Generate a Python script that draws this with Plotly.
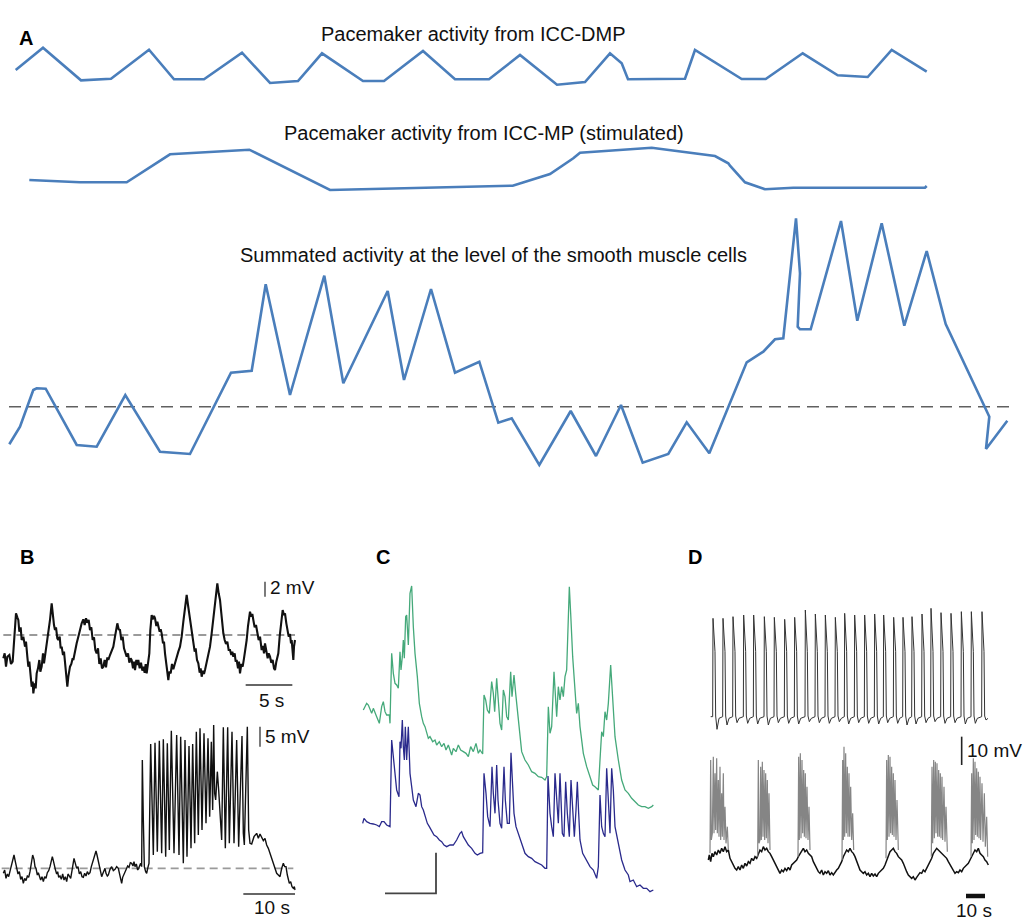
import plotly.graph_objects as go

# ===================== figure frame =====================
W, H = 1024, 920
FONT = "Liberation Sans, Arial, sans-serif"

# ===================== panel A (x: time, y: level, read in px units of panel) =====================
a_dmp_x = [15.7, 43, 81, 111, 149, 174, 204, 242, 270, 298, 322, 363, 384, 423, 455, 489, 520, 557, 585, 610,
           621.7, 628, 685, 695, 741.7, 765.7, 802.7, 837.7, 867.7, 891.7, 926.7]
a_dmp_y = [70, 47.7, 80.3, 78.7, 49.7, 79.3, 79.3, 52.7, 83, 81, 53.3, 81, 81, 51, 79.3, 79.3, 55, 84.7, 82, 53.3,
           63.3, 79.3, 78.7, 50, 79, 79, 53.3, 75.3, 77, 50, 71.7]

a_mp_x = [29.3, 80, 126.7, 170, 249.3, 330, 512.7, 550, 573.3, 580, 651.7, 715, 728.3, 730, 745, 765, 793.3, 925, 926.7]
a_mp_y = [180, 182.3, 182.3, 154.3, 149.7, 190, 185.7, 174, 158.3, 152.7, 147.7, 156, 163.3, 165.7, 182.3, 189.3,
          187.7, 187.7, 186]

a_sum_x = [9.3, 20, 33.3, 36.7, 45.7, 76.7, 96.7, 125.3, 160, 190, 231, 251.7, 265.7, 290, 324.3, 343.3, 387.7, 404,
           431, 455, 479.3, 498.3, 511.7, 539.3, 570.7, 596, 621, 642.7, 668.3, 686.7, 709.3, 746.7, 763.3, 775,
           783.3, 796, 800, 797.7, 800, 810.7, 841, 857.3, 881.7, 904.3, 926.7, 945.7, 987.7, 989.3, 986, 1007.3]
a_sum_y = [444.3, 426.7, 390, 388.3, 388.7, 445, 446.7, 395, 451.7, 454, 372.7, 370.7, 284.3, 395, 275.7, 383.3, 291,
           380, 289, 372.7, 361.7, 422.7, 418.3, 465, 411, 456, 405, 462.7, 454, 422.3, 453.3, 362.3, 351.7, 339.3,
           338.3, 218.3, 273.3, 326.7, 329.3, 329.3, 221, 320.7, 223.3, 325.7, 251, 324, 413.3, 416.7, 449, 420.7]
a_rest_x = [9, 1010]
a_rest_y = [406.7, 406.7]

a_titles = ["Pacemaker activity from ICC-DMP",
            "Pacemaker activity from ICC-MP (stimulated)",
            "Summated activity at the level of the smooth muscle cells"]

# ===================== panel B =====================
b_top = [(10, 355), (14, 340), (18, 380), (22, 350), (28, 345), (33, 372), (38, 365), (42, 300), (46, 235), (48, 220),
         (52, 232), (55, 240), (58, 275), (62, 262), (65, 300), (70, 290), (75, 320), (78, 305), (82, 350), (85, 380),
         (88, 365), (92, 415), (95, 440), (98, 425), (100, 460), (104, 430), (107, 445), (110, 400), (114, 385),
         (118, 360), (121, 395), (125, 380), (129, 340), (132, 370), (135, 350), (140, 320), (145, 280), (150, 240),
         (155, 190), (158, 230), (162, 255), (165, 270), (168, 262), (172, 295), (175, 300), (179, 290), (182, 325),
         (185, 320), (189, 345), (192, 335), (195, 370), (198, 395), (202, 440), (205, 410), (208, 395), (210, 380),
         (214, 372), (218, 355), (220, 360), (225, 330), (230, 310), (235, 290), (240, 268), (243, 258), (245, 250),
         (250, 238), (254, 255), (258, 235), (262, 248), (266, 240), (270, 270), (274, 262), (278, 300), (282, 292),
         (286, 330), (290, 340), (294, 325), (298, 372), (302, 355), (306, 385), (310, 380), (314, 360), (318, 382),
         (322, 352), (325, 360), (330, 345), (335, 332), (340, 320), (345, 290), (349, 262), (352, 250), (356, 268),
         (360, 270), (364, 300), (368, 290), (372, 325), (376, 338), (380, 350), (384, 340), (388, 368), (392, 355),
         (395, 360), (399, 385), (402, 365), (405, 390), (409, 360), (412, 375), (415, 360), (419, 385), (423, 368),
         (427, 392), (430, 380), (434, 398), (437, 372), (440, 400), (444, 375), (448, 340), (451, 270), (455, 225),
         (458, 238), (462, 228), (465, 235), (469, 258), (472, 245), (475, 260), (479, 275), (482, 268), (485, 280),
         (489, 310), (492, 305), (495, 340), (499, 380), (502, 405), (505, 420), (508, 395), (512, 400), (516, 372),
         (520, 388), (525, 370), (530, 350), (535, 335), (540, 320), (545, 290), (550, 245), (555, 200), (560, 165),
         (564, 195), (567, 215), (570, 230), (574, 255), (577, 280), (580, 300), (584, 335), (587, 325), (591, 360),
         (595, 370), (599, 398), (602, 385), (605, 410), (609, 392), (612, 402), (615, 390), (619, 370), (622, 350),
         (626, 335), (630, 320), (635, 280), (640, 240), (645, 200), (649, 155), (652, 130), (656, 160), (660, 180),
         (664, 220), (667, 255), (670, 280), (674, 300), (678, 312), (682, 305), (686, 330), (690, 330), (694, 345),
         (697, 335), (700, 350), (704, 340), (707, 365), (710, 360), (714, 385), (717, 365), (720, 400), (724, 372),
         (728, 380), (732, 355), (736, 330), (740, 300), (744, 258), (748, 222), (750, 215), (754, 230), (757, 222),
         (760, 240), (764, 262), (768, 255), (772, 280), (776, 300), (780, 290), (785, 330), (789, 318), (792, 340),
         (795, 310), (799, 335), (803, 355), (806, 340), (810, 350), (814, 368), (818, 360), (822, 385), (825, 390),
         (829, 365), (832, 350), (835, 340), (839, 290), (843, 245), (848, 210), (852, 225), (855, 220), (859, 250),
         (862, 270), (866, 290), (870, 282), (873, 310), (875, 300), (878, 330), (880, 360), (882, 320), (885, 300)]
b_top_rest = 285

b_bot = [(10, 460), (14, 450), (18, 475), (22, 462), (26, 470), (30, 455), (34, 440), (38, 418), (42, 405), (46, 425),
         (50, 440), (54, 462), (58, 455), (62, 478), (66, 470), (70, 490), (74, 475), (78, 482), (82, 468), (86, 472),
         (90, 455), (94, 430), (98, 405), (102, 418), (105, 440), (108, 445), (112, 465), (115, 458), (118, 470),
         (122, 480), (126, 470), (130, 485), (134, 470), (138, 475), (142, 458), (146, 452), (150, 440), (154, 425),
         (157, 410), (160, 422), (163, 440), (166, 448), (170, 462), (173, 455), (176, 472), (180, 468), (184, 478),
         (188, 462), (192, 480), (196, 470), (200, 485), (204, 462), (208, 468), (212, 475), (216, 452), (220, 425),
         (222, 415), (226, 430), (230, 445), (234, 440), (238, 462), (242, 455), (246, 470), (250, 472), (254, 460),
         (258, 468), (262, 455), (266, 462), (270, 458), (274, 440), (278, 425), (282, 408), (285, 398), (288, 393),
         (291, 405), (294, 420), (298, 440), (302, 455), (305, 470), (308, 462), (312, 450), (315, 445), (318, 460),
         (322, 468), (325, 465), (330, 448), (335, 440), (340, 452), (345, 448), (350, 440), (355, 445), (358, 462),
         (362, 478), (365, 490), (368, 472), (372, 462), (375, 458), (379, 448), (383, 438), (387, 442), (391, 428),
         (395, 430), (399, 438), (402, 425), (405, 440), (409, 432), (413, 450), (416, 445), (419, 435), (422, 430),
         (425, 440), (427, 120), (430, 300), (433, 440), (437, 455), (440, 460), (443, 445), (447, 430),
         (452, 72), (458, 330), (460, 405), (465, 68), (470, 330), (472, 395), (478, 62), (483, 320), (485, 400),
         (490, 58), (495, 330), (497, 410), (502, 70), (506, 320), (508, 390), (514, 32), (519, 320), (522, 400),
         (530, 45), (535, 330), (537, 405), (542, 50), (547, 340), (550, 430), (555, 60), (559, 330), (561, 410),
         (567, 78), (571, 310), (573, 385), (578, 72), (582, 300), (584, 370), (589, 35), (593, 290), (595, 345),
         (600, 25), (604, 270), (606, 330), (612, 40), (616, 260), (618, 310), (624, 55), (627, 240), (629, 290),
         (634, 65), (637, 230), (638, 270), (641, 15), (644, 220), (647, 240), (652, 155), (656, 210), (659, 250),
         (662, 300), (665, 360), (670, 22), (674, 340), (676, 385), (683, 22), (686, 330), (688, 370), (696, 35),
         (700, 330), (702, 370), (710, 60), (714, 340), (716, 380), (726, 48), (730, 340), (733, 375), (742, 20),
         (746, 330), (750, 370), (755, 372), (762, 350), (770, 340), (775, 355), (780, 342), (785, 350), (790, 362),
         (795, 355), (800, 375), (805, 385), (810, 400), (815, 415), (820, 430), (825, 450), (830, 460), (835, 465),
         (840, 470), (845, 445), (850, 430), (854, 440), (858, 440), (862, 465), (866, 478), (868, 490), (872, 485),
         (876, 500), (880, 505), (883, 500), (885, 510)]
b_bot_rest = 445

# ===================== panel C =====================
c_green = [(70, 450), (75, 440), (80, 430), (85, 435), (90, 450), (95, 460), (100, 445), (105, 455), (110, 470),
           (118, 490), (125, 440), (130, 425), (135, 455), (140, 465), (148, 465), (150, 490), (155, 280), (160, 340),
           (165, 370), (170, 375), (175, 385), (180, 275), (183, 330), (187, 290), (190, 240), (193, 295), (197, 170),
           (200, 165), (205, 255), (210, 100), (215, 78), (220, 200), (225, 280), (232, 350), (238, 430), (245, 470),
           (250, 490), (255, 500), (260, 520), (265, 535), (270, 530), (278, 545), (285, 540), (290, 555), (298, 545),
           (305, 560), (312, 550), (318, 570), (325, 555), (335, 585), (340, 565), (348, 575), (355, 555), (362, 570),
           (370, 575), (378, 580), (385, 590), (392, 560), (400, 575), (408, 550), (415, 580), (420, 570), (428, 582),
           (432, 405), (437, 420), (442, 450), (448, 460), (455, 365), (460, 400), (464, 455), (470, 355), (475, 430),
           (480, 490), (485, 510), (490, 390), (495, 410), (500, 470), (505, 480), (512, 335), (516, 410), (522, 345),
           (527, 400), (535, 480), (545, 575), (555, 600), (565, 615), (575, 635), (585, 640), (595, 650), (605, 652),
           (615, 660), (620, 650), (625, 440), (630, 520), (635, 500), (642, 335), (650, 470), (655, 380), (660, 420),
           (665, 380), (670, 410), (675, 350), (680, 330), (685, 130), (688, 80), (692, 160), (698, 290), (705, 390),
           (710, 460), (715, 430), (720, 500), (730, 580), (740, 620), (750, 650), (758, 675), (765, 680), (775, 690),
           (780, 600), (785, 515), (790, 530), (795, 455), (800, 480), (805, 430), (812, 315), (818, 410), (825, 530),
           (835, 600), (845, 660), (855, 690), (865, 700), (875, 715), (885, 725), (895, 735), (905, 740), (915, 740),
           (925, 745), (935, 740), (940, 735)]

c_blue = [(68, 790), (72, 775), (80, 785), (90, 790), (100, 792), (110, 795), (118, 800), (125, 785), (132, 785),
          (140, 795), (150, 800), (155, 540), (160, 590), (165, 640), (170, 690), (177, 710), (180, 545), (183, 565),
          (187, 480), (190, 560), (193, 600), (196, 500), (200, 600), (205, 500), (210, 640), (215, 680), (220, 720),
          (228, 740), (235, 700), (240, 705), (245, 740), (250, 750), (255, 765), (262, 790), (268, 800), (275, 815),
          (282, 825), (290, 830), (298, 840), (305, 845), (312, 855), (320, 860), (330, 855), (340, 855), (350, 840),
          (360, 820), (365, 815), (370, 830), (378, 845), (385, 855), (395, 865), (405, 880), (412, 885), (420, 880),
          (428, 878), (432, 640), (438, 700), (443, 770), (450, 800), (456, 620), (460, 700), (465, 760), (470, 615),
          (474, 720), (480, 790), (485, 805), (492, 620), (496, 720), (502, 790), (508, 790), (513, 578), (518, 680),
          (522, 760), (528, 800), (535, 820), (545, 855), (555, 880), (565, 890), (575, 895), (585, 905), (595, 910),
          (605, 915), (615, 925), (620, 925), (624, 648), (630, 760), (635, 800), (640, 830), (645, 640), (650, 730),
          (655, 790), (660, 640), (663, 720), (667, 820), (672, 830), (677, 665), (682, 760), (688, 830), (693, 660),
          (698, 760), (703, 830), (708, 750), (712, 665), (716, 760), (720, 840), (728, 880), (740, 900), (750, 920),
          (760, 930), (765, 945), (770, 955), (775, 920), (780, 705), (785, 800), (790, 820), (795, 830), (800, 625),
          (805, 720), (810, 820), (815, 625), (820, 690), (825, 800), (835, 855), (845, 900), (855, 930), (865, 945),
          (870, 965), (880, 960), (890, 980), (900, 975), (910, 985), (920, 985), (930, 995), (940, 990)]

# ===================== panel D =====================
# top: one slow wave per rise time, with its peak and post-spike dip level
d_top_rise = [68, 98, 128, 160, 190, 222, 252, 283, 313, 345, 375, 405, 435, 463, 493, 523, 553, 580, 610, 638,
              665, 695, 722, 752, 782, 813, 843, 875]
d_top_peak = [235, 235, 230, 225, 225, 230, 232, 238, 232, 210, 222, 225, 232, 220, 225, 225, 222, 225, 232, 232,
              230, 222, 205, 218, 220, 215, 215, 215]
d_top_dip = [568, 555, 548, 550, 552, 555, 548, 550, 552, 545, 548, 550, 545, 552, 548, 550, 552, 548, 550, 555,
             552, 548, 545, 550, 548, 552, 550, 540]

d_base = [(55, 960), (58, 945), (62, 965), (66, 940), (70, 950), (75, 935), (80, 945), (85, 930), (90, 940),
          (95, 925), (100, 935), (105, 920), (110, 935), (115, 930), (120, 955), (125, 965), (130, 975), (135, 985),
          (140, 990), (145, 980), (150, 990), (155, 975), (160, 985), (165, 970), (170, 978), (175, 965), (180, 970),
          (185, 955), (190, 962), (195, 950), (200, 955), (205, 945), (210, 930), (215, 935), (220, 920), (225, 930),
          (230, 925), (235, 935), (240, 940), (245, 950), (250, 960), (255, 970), (260, 985), (265, 990), (270, 1000),
          (275, 990), (280, 995), (285, 985), (290, 992), (295, 982), (300, 990), (305, 975), (310, 970), (315, 962),
          (320, 960), (325, 950), (330, 940), (335, 930), (340, 925), (345, 935), (350, 930), (355, 940), (360, 945),
          (365, 950), (370, 965), (375, 975), (380, 990), (385, 995), (390, 1000), (395, 990), (400, 1005),
          (405, 995), (410, 1000), (415, 992), (420, 1005), (425, 998), (430, 1005), (435, 995), (440, 990),
          (445, 985), (450, 975), (455, 965), (460, 950), (465, 940), (470, 930), (475, 935), (480, 925), (485, 935),
          (490, 940), (495, 950), (500, 965), (505, 980), (510, 990), (515, 995), (520, 1000), (525, 995),
          (530, 1005), (535, 1000), (540, 1010), (545, 1000), (550, 1008), (555, 1002), (560, 1010), (565, 1000),
          (570, 995), (575, 990), (580, 985), (585, 975), (590, 960), (595, 945), (600, 935), (605, 930), (610, 925),
          (615, 935), (620, 940), (625, 950), (630, 955), (635, 960), (640, 970), (645, 985), (650, 995), (655, 1005),
          (660, 1010), (665, 1015), (670, 1010), (675, 1020), (680, 1012), (685, 1005), (690, 998), (695, 1000),
          (700, 990), (705, 995), (710, 985), (715, 980), (720, 970), (725, 955), (730, 940), (735, 930), (740, 925),
          (745, 930), (750, 935), (755, 940), (760, 945), (765, 950), (770, 955), (775, 965), (780, 975), (785, 985),
          (790, 995), (795, 1000), (800, 995), (805, 998), (810, 990), (815, 995), (820, 985), (825, 980), (830, 975),
          (835, 970), (840, 960), (845, 950), (850, 940), (855, 930), (860, 935), (865, 925), (870, 940), (875, 945),
          (880, 950), (885, 960), (890, 965), (895, 975)]

d_bursts = [
    [(60, 940), (62, 660), (64, 900), (67, 880), (70, 650), (72, 880), (75, 700), (77, 870), (80, 655), (82, 880),
     (85, 720), (87, 890), (90, 680), (92, 900), (95, 760), (97, 890), (100, 700), (102, 900), (105, 800), (108, 910),
     (112, 860), (115, 930)],
    [(203, 950), (205, 660), (207, 910), (210, 900), (212, 680), (214, 900), (217, 665), (219, 890), (222, 690),
     (224, 900), (227, 700), (229, 895), (232, 720), (234, 910), (237, 760), (240, 930)],
    [(324, 950), (326, 650), (328, 900), (331, 640), (333, 895), (336, 660), (338, 880), (341, 690), (343, 890),
     (346, 700), (348, 895), (351, 740), (354, 900), (357, 800), (360, 930)],
    [(456, 960), (458, 660), (460, 900), (462, 620), (464, 890), (467, 640), (469, 880), (472, 680), (474, 890),
     (477, 700), (479, 890), (482, 740), (485, 900), (488, 820), (491, 930)],
    [(588, 955), (590, 660), (592, 900), (595, 645), (597, 890), (600, 650), (602, 880), (605, 680), (607, 885),
     (610, 700), (612, 890), (615, 720), (618, 900), (621, 780), (625, 930)],
    [(724, 950), (726, 680), (728, 910), (731, 660), (733, 895), (736, 665), (738, 880), (741, 670), (743, 890),
     (746, 690), (748, 890), (751, 700), (753, 895), (756, 710), (758, 900), (762, 740), (765, 905), (768, 800),
     (772, 935)],
    [(843, 950), (845, 700), (847, 910), (850, 655), (852, 900), (855, 665), (857, 885), (860, 685), (862, 890),
     (865, 695), (867, 895), (870, 710), (872, 900), (876, 730), (879, 905), (883, 760), (886, 920), (890, 830),
     (893, 950)],
]


# ===================== helpers =====================
def frame(x0, y0, w, h):
    """pixel box -> axis domains"""
    return [x0 / W, (x0 + w) / W], [1 - (y0 + h) / H, 1 - y0 / H]


def xy(pairs):
    return [p[0] for p in pairs], [p[1] for p in pairs]


def line(fig, x, y, ax, color, width, dash=None):
    fig.add_trace(go.Scatter(x=x, y=y, mode="lines", xaxis="x" + ax, yaxis="y" + ax, hoverinfo="skip",
                             line=dict(color=color, width=width, dash=dash), showlegend=False))


fig = go.Figure()

# ---- A ----
BLUE = "#4a7ebb"
line(fig, a_dmp_x, a_dmp_y, "", BLUE, 2.6)
line(fig, a_mp_x, a_mp_y, "", BLUE, 2.6)
line(fig, a_rest_x, a_rest_y, "", "#606060", 1.6, "12px,7px")
line(fig, a_sum_x, a_sum_y, "", BLUE, 2.6)

# ---- B ----
x, y = xy(b_top)
line(fig, [10, 885], [b_top_rest, b_top_rest], "2", "#9a9a9a", 1.8, "8px,5px")
line(fig, x, y, "2", "#111111", 2.1)
line(fig, [795, 795], [125, 170], "2", "#333333", 1.3)
line(fig, [737, 877], [435, 435], "2", "#333333", 1.3)

x, y = xy(b_bot)
line(fig, [5, 880], [b_bot_rest, b_bot_rest], "3", "#9a9a9a", 1.8, "8px,5px")
line(fig, x, y, "3", "#111111", 1.4)
line(fig, [780, 780], [20, 80], "3", "#333333", 1.3)
line(fig, [730, 885], [522, 522], "3", "#333333", 1.3)

# ---- C ----
x, y = xy(c_green)
line(fig, x, y, "4", "#45a97a", 1.3)
x, y = xy(c_blue)
line(fig, x, y, "4", "#2a2a8c", 1.3)
line(fig, [135, 288, 288], [1000, 1000, 878], "4", "#444444", 1.8)

# ---- D ----
dx, dy = [62], [530]
for r, pk, dp in zip(d_top_rise, d_top_peak, d_top_dip):
    dx += [r, r + 1, r + 5, r + 7, r + 9, r + 13, r + 19]
    dy += [530, pk, 322, 335, 528, dp, 535]
line(fig, dx, dy, "5", "#333333", 1.0)

x, y = xy(d_base)
line(fig, x, y, "5", "#111111", 1.5)
bx, by = [], []
for burst in d_bursts:
    bx += [p[0] for p in burst] + [None]
    by += [p[1] for p in burst] + [None]
line(fig, bx, by, "5", "#858585", 1.2)
line(fig, [815, 815], [590, 675], "5", "#222222", 1.6)
line(fig, [828, 885], [1068, 1068], "5", "#111111", 4.5)

# ===================== layout =====================
layout = dict(width=W, height=H, margin=dict(l=0, r=0, t=0, b=0), paper_bgcolor="white", plot_bgcolor="white",
              showlegend=False)
frames = {"": (0, 0, 1024, 500, [0, 1024], [500, 0]),
          "2": (0, 540, 340, 180, [0, 1020], [540, 0]),
          "3": (0, 720, 340, 200, [0, 1020], [600, 0]),
          "4": (340, 560, 340, 340, [0, 1020], [1020, 0]),
          "5": (690, 540, 334, 380, [0, 1002], [1140, 0])}
for k, (x0, y0, w, h, xr, yr) in frames.items():
    dxd, dyd = frame(x0, y0, w, h)
    layout["xaxis" + k] = dict(domain=dxd, range=xr, visible=False, fixedrange=True)
    layout["yaxis" + k] = dict(domain=dyd, range=yr, visible=False, fixedrange=True,
                               anchor="x" + k if k else "x")
fig.update_layout(**layout)

txt = dict(family=FONT, size=19, color="#111111")
notes = []
for t, cx, cy in zip(a_titles, [473, 484, 493], [34, 133, 255]):
    notes.append(dict(text=t, x=cx, y=cy, xref="x", yref="y", showarrow=False, font=dict(txt, size=20)))
notes += [
    dict(text="2 mV", x=805, y=143, xref="x2", yref="y2", xanchor="left", showarrow=False, font=txt),
    dict(text="5 s", x=815, y=480, xref="x2", yref="y2", showarrow=False, font=txt),
    dict(text="5 mV", x=790, y=50, xref="x3", yref="y3", xanchor="left", showarrow=False, font=txt),
    dict(text="10 s", x=817, y=562, xref="x3", yref="y3", showarrow=False, font=txt),
    dict(text="10 mV", x=825, y=630, xref="x5", yref="y5", xanchor="left", showarrow=False, font=txt),
    dict(text="10 s", x=852, y=1110, xref="x5", yref="y5", showarrow=False, font=txt),
]
for lab, px, py in [("A", 17, 25), ("B", 18, 557), ("C", 383, 557), ("D", 704, 557)]:
    notes.append(dict(text="<b>%s</b>" % lab, x=px / W, y=1 - py / H, xref="paper", yref="paper",
                      showarrow=False, font=dict(family=FONT, size=20, color="#000000")))
fig.update_layout(annotations=notes)

# page body has a default 8px margin; drop it so the figure sits at the window origin
fig.write_html("out.html", config={"displayModeBar": False},
               post_script="document.body.style.margin='0';")
